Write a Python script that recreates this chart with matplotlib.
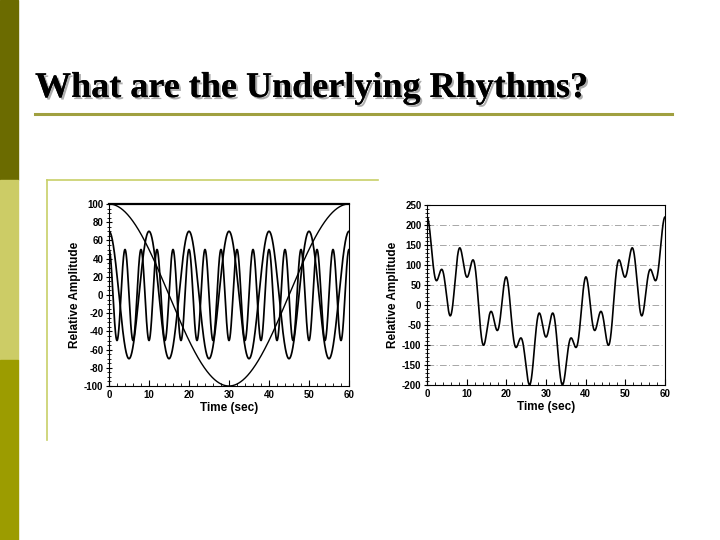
import numpy as np
import matplotlib
matplotlib.use("Agg")
import matplotlib.pyplot as plt
import matplotlib.patheffects as pe
from matplotlib.ticker import MultipleLocator

plt.rcParams["axes.unicode_minus"] = False

# underlying rhythms: amplitude and period (sec) of each cosine component
amplitudes = [100, 70, 50]
periods = [60, 10, 4]

time_range = [0, 60]
left_yticks = [-100, -80, -60, -40, -20, 0, 20, 40, 60, 80, 100]
right_yticks = [-200, -150, -100, -50, 0, 50, 100, 150, 200, 250]
xticks = [0, 10, 20, 30, 40, 50, 60]

title = "What are the Underlying Rhythms?"

t = np.linspace(time_range[0], time_range[1], 2000)
components = [a * np.cos(2 * np.pi * t / p) for a, p in zip(amplitudes, periods)]
total = np.sum(components, axis=0)

fig = plt.figure(figsize=(7.2, 5.4), dpi=100)
fig.patch.set_facecolor("white")

# slide decoration: left coloured bar in three parts
bar_colors = ["#6b6b00", "#cccc66", "#9c9c00"]
for k, c in enumerate(bar_colors):
    fig.patches.append(plt.Rectangle((0, 1 - (k + 1) / 3), 18 / 720, 1 / 3,
                                     transform=fig.transFigure, color=c, zorder=0))

# title with shadow
fig.text(35 / 720, 1 - 97 / 540, title, fontsize=26, fontweight="bold",
         family="Liberation Serif", color="black", va="baseline", ha="left",
         path_effects=[pe.withSimplePatchShadow(offset=(1.5, -1.5), shadow_rgbFace="#999999", alpha=0.8),
                       pe.Normal()])
fig.lines.append(plt.Line2D([35 / 720, 672 / 720], [1 - 114 / 540] * 2,
                            transform=fig.transFigure, color="#a0a040", lw=2.2))

# frame round the left picture
fc = "#c8d068"
fig.lines.append(plt.Line2D([47 / 720, 47 / 720], [1 - 440 / 540, 1 - 180 / 540],
                            transform=fig.transFigure, color=fc, lw=1.2))
fig.lines.append(plt.Line2D([47 / 720, 378 / 720], [1 - 180 / 540] * 2,
                            transform=fig.transFigure, color=fc, lw=1.2))

tick_font = dict(family="Liberation Sans", fontweight="bold", fontsize=7)
label_font = dict(family="Liberation Sans", fontweight="bold", fontsize=8.5)


def style(ax, yticks, yminor):
    ax.set_xlim(time_range)
    ax.set_ylim(yticks[0], yticks[-1])
    ax.set_xticks(xticks)
    ax.set_yticks(yticks)
    ax.xaxis.set_minor_locator(MultipleLocator(2))
    ax.yaxis.set_minor_locator(MultipleLocator(yminor))
    ax.tick_params(axis="x", which="both", direction="in", top=False, pad=3)
    ax.tick_params(axis="y", which="both", direction="inout", right=False, pad=2)
    ax.tick_params(which="major", length=4, width=0.8)
    ax.tick_params(which="minor", length=2.5, width=0.6)
    for lab in ax.get_xticklabels() + ax.get_yticklabels():
        lab.set(**tick_font)
    ax.set_xlabel("Time (sec)", labelpad=1, **label_font)
    ax.set_ylabel("Relative Amplitude", labelpad=2, **label_font)
    for s in ax.spines.values():
        s.set_linewidth(0.8)


ax1 = fig.add_axes([109 / 720, 1 - 386 / 540, 240 / 720, 182 / 540])
for y, lw in zip(components, [1.0, 1.25, 1.25]):
    ax1.plot(t, y, color="black", lw=lw)
style(ax1, left_yticks, 5)
ax1.spines["top"].set_linewidth(1.6)

ax2 = fig.add_axes([427 / 720, 1 - 385 / 540, 238 / 720, 180 / 540])
for v in right_yticks[1:-1]:
    ax2.axhline(v, color="#999999", lw=0.6, ls=(0, (8, 3, 1, 3)), zorder=0)
ax2.plot(t, total, color="black", lw=1.2)
style(ax2, right_yticks, 10)

fig.savefig("out.png", dpi=100)
